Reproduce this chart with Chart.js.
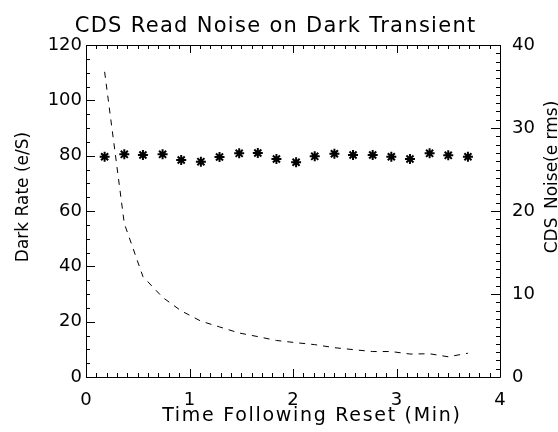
<!DOCTYPE html>
<html>
<head>
<meta charset="utf-8">
<script src="https://cdn.jsdelivr.net/npm/chart.js@4/dist/chart.umd.min.js"></script>
<style>
  html, body { margin: 0; padding: 0; background: #ffffff; }
  #wrap { width: 558px; height: 432px; }
</style>
</head>
<body>
<div id="wrap"><canvas id="c" width="558" height="432"></canvas></div>
<script>
// Time after the reset, in minutes
const minutes = [0.18, 0.37, 0.55, 0.74, 0.92, 1.11, 1.29, 1.48, 1.66, 1.84,
                 2.03, 2.21, 2.40, 2.58, 2.77, 2.95, 3.13, 3.32, 3.50, 3.69];
// Dark current rate (e/S), left axis
const darkRate = [110.3, 55.5, 36.3, 28.8, 23.9, 20.2, 18.1, 15.9, 14.6, 13.2,
                  12.4, 11.7, 10.6, 9.9, 9.2, 9.2, 8.3, 8.4, 7.3, 8.6];
// CDS read noise (e rms), right axis
const cdsNoise = [26.54, 26.83, 26.75, 26.83, 26.14, 25.94, 26.51, 26.95, 26.99, 26.27,
                  25.87, 26.59, 26.90, 26.75, 26.75, 26.54, 26.27, 26.95, 26.71, 26.54];
// Axis ranges and tick steps
const xRange = [0, 4];
const darkRange = [0, 120];
const noiseRange = [0, 40];
const xMajor = 1, xMinor = 0.1;
const darkMajor = 20, darkMinor = 5;
const noiseMajor = 10, noiseMinor = 1;

const titleText = 'CDS Read Noise on Dark Transient';
const xTitle = 'Time Following Reset (Min)';
const yTitle = 'Dark Rate (e/S)';
const y1Title = 'CDS_Noise(e rms)';

const FONT = '"DejaVu Sans", sans-serif';
const INK = '#000000';

function spacedText(ctx, text, x, y, spacing) {
  // centre a string drawn with extra tracking
  ctx.letterSpacing = spacing + 'px';
  const w = ctx.measureText(text).width - spacing;
  ctx.textAlign = 'left';
  ctx.fillText(text, x - w / 2, y);
  ctx.letterSpacing = '0px';
}

// Box frame with inward-pointing ticks on all four sides, plus titles
const framePlugin = {
  id: 'frame',
  afterDraw(chart) {
    const ctx = chart.ctx;
    const a = chart.chartArea;
    const sx = chart.scales.x, sy = chart.scales.y, sy1 = chart.scales.y1;
    ctx.save();
    ctx.strokeStyle = INK;
    ctx.lineWidth = 1;
    ctx.beginPath();
    ctx.rect(Math.round(a.left) + 0.5, Math.round(a.top) + 0.5,
             Math.round(a.right - a.left), Math.round(a.bottom - a.top));
    ctx.stroke();

    ctx.beginPath();
    const nx = Math.round((xRange[1] - xRange[0]) / xMinor);
    for (let i = 0; i <= nx; i++) {
      const v = xRange[0] + i * xMinor;
      const major = Math.abs(v / xMajor - Math.round(v / xMajor)) < 1e-6;
      const len = major ? 8 : 4;
      const px = Math.round(sx.getPixelForValue(v)) + 0.5;
      ctx.moveTo(px, a.bottom); ctx.lineTo(px, a.bottom - len);
      ctx.moveTo(px, a.top); ctx.lineTo(px, a.top + len);
    }
    const ny = Math.round((darkRange[1] - darkRange[0]) / darkMinor);
    for (let i = 0; i <= ny; i++) {
      const v = darkRange[0] + i * darkMinor;
      const len = (v % darkMajor === 0) ? 9 : 4;
      const py = Math.round(sy.getPixelForValue(v)) + 0.5;
      ctx.moveTo(a.left, py); ctx.lineTo(a.left + len, py);
    }
    const n1 = Math.round((noiseRange[1] - noiseRange[0]) / noiseMinor);
    for (let i = 0; i <= n1; i++) {
      const v = noiseRange[0] + i * noiseMinor;
      const len = (v % noiseMajor === 0) ? 9 : 4;
      const py = Math.round(sy1.getPixelForValue(v)) + 0.5;
      ctx.moveTo(a.right, py); ctx.lineTo(a.right - len, py);
    }
    ctx.stroke();

    // Titles
    ctx.fillStyle = INK;
    ctx.textBaseline = 'alphabetic';
    ctx.font = '21px ' + FONT;
    spacedText(ctx, titleText, 275, 32, 1.3);

    ctx.font = '19px ' + FONT;
    spacedText(ctx, xTitle, 311, 421, 1.7);

    ctx.font = '17px ' + FONT;
    ctx.save();
    ctx.translate(28, 197);
    ctx.rotate(-Math.PI / 2);
    spacedText(ctx, yTitle, 0, 0, 0);
    ctx.restore();

    ctx.save();
    ctx.translate(557, 177);
    ctx.rotate(-Math.PI / 2);
    spacedText(ctx, y1Title, 0, 0, 0);
    ctx.restore();
    ctx.restore();
  }
};

const tickFont = { family: FONT, size: 18 };

new Chart(document.getElementById('c'), {
  type: 'scatter',
  data: {
    datasets: [
      {
        label: 'Dark Rate',
        data: minutes.map((t, i) => ({ x: t, y: darkRate[i] })),
        yAxisID: 'y',
        showLine: true,
        borderColor: INK,
        borderWidth: 1,
        borderDash: [6, 6],
        pointRadius: 0,
        tension: 0
      },
      {
        label: 'CDS Noise',
        data: minutes.map((t, i) => ({ x: t, y: cdsNoise[i] })),
        yAxisID: 'y1',
        showLine: false,
        pointStyle: 'star',
        pointRadius: 5,
        borderColor: INK,
        backgroundColor: INK,
        borderWidth: 2
      }
    ]
  },
  options: {
    responsive: false,
    animation: false,
    events: [],
    layout: { padding: { top: 45, left: 0, right: 0, bottom: 0 } },
    plugins: { legend: { display: false }, tooltip: { enabled: false }, title: { display: false } },
    scales: {
      x: {
        type: 'linear', position: 'bottom',
        min: xRange[0], max: xRange[1],
        grid: { display: false, drawTicks: false }, border: { display: false },
        ticks: { stepSize: xMajor, color: INK, font: tickFont, padding: 13, maxRotation: 0 },
        afterFit(s) { s.height = 55; }
      },
      y: {
        type: 'linear', position: 'left',
        min: darkRange[0], max: darkRange[1],
        grid: { display: false, drawTicks: false }, border: { display: false },
        ticks: { stepSize: darkMajor, color: INK, font: tickFont, padding: 4 },
        afterFit(s) { s.width = 86; }
      },
      y1: {
        type: 'linear', position: 'right',
        min: noiseRange[0], max: noiseRange[1],
        grid: { display: false, drawTicks: false }, border: { display: false },
        ticks: { stepSize: noiseMajor, color: INK, font: tickFont, padding: 12 },
        afterFit(s) { s.width = 58; }
      }
    }
  },
  plugins: [framePlugin]
});
</script>
</body>
</html>
